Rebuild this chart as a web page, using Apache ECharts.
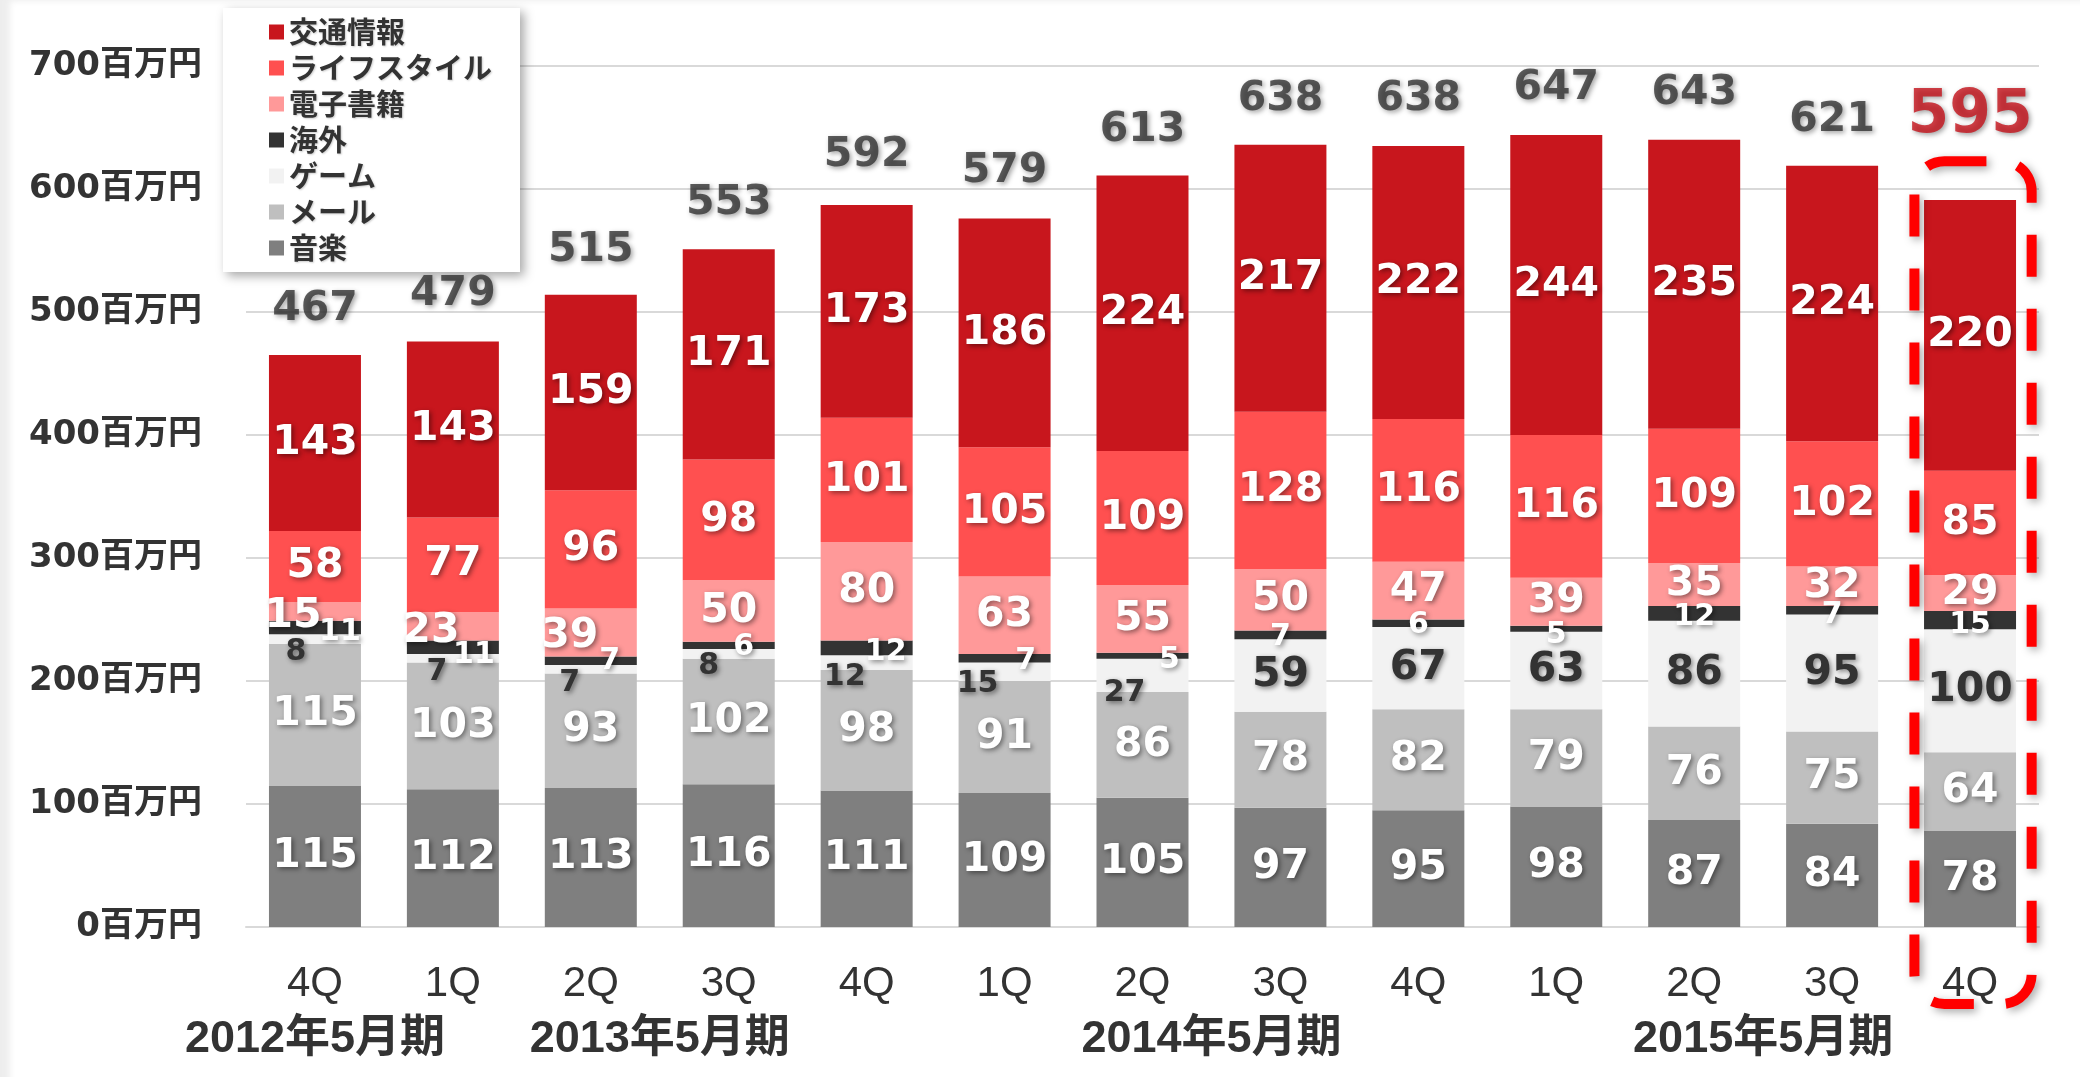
<!DOCTYPE html>
<html><head><meta charset="utf-8">
<script src="https://cdn.jsdelivr.net/npm/echarts@6/dist/echarts.min.js"></script>
<style>
html,body{margin:0;padding:0;background:#fff}
#wrap{position:relative;width:2080px;height:1077px}
#c{width:2080px;height:1077px}
#frame{position:absolute;left:0;top:0;width:2080px;height:1077px;pointer-events:none;
  box-shadow:inset 16px 7px 6px -6px rgba(0,0,0,0.07)}
</style>
</head><body><div id="wrap"><div id="c"></div><div id="frame"></div></div>
<script>
// ---- data ----
const quarters = ['4Q','1Q','2Q','3Q','4Q','1Q','2Q','3Q','4Q','1Q','2Q','3Q','4Q'];
const periodLabels = ['2012年5月期','2013年5月期','2014年5月期','2015年5月期'];
const periodCenters = [0, 2.5, 6.5, 10.5];
const yUnit = '百万円';
const seriesNames = ['音楽','メール','ゲーム','海外','電子書籍','ライフスタイル','交通情報'];
const music     = [115,112,113,116,111,109,105, 97, 95, 98, 87, 84, 78];
const mail      = [115,103, 93,102, 98, 91, 86, 78, 82, 79, 76, 75, 64];
const game      = [  8,  7,  7,  8, 12, 15, 27, 59, 67, 63, 86, 95,100];
const overseas  = [ 11, 11,  7,  6, 12,  7,  5,  7,  6,  5, 12,  7, 15];
const ebook     = [ 15, 23, 39, 50, 80, 63, 55, 50, 47, 39, 35, 32, 29];
const lifestyle = [ 58, 77, 96, 98,101,105,109,128,116,116,109,102, 85];
const traffic   = [143,143,159,171,173,186,224,217,222,244,235,224,220];
const totals    = [467,479,515,553,592,579,613,638,638,647,643,621,595];

// ---- styles ----
const colors = ['#7F7F7F','#BFBFBF','#F2F2F2','#333333','#FF9999','#FF5050','#C8161D'];
const labelColors = ['#fff','#fff','#333','#fff','#fff','#fff','#fff'];
const nudges = {
  'ゲーム': [[-19,13],[-16,14],[-21,14],[-20,12],[-22,15],[-27,12],[-18,18]],
  '海外': [[25,5],[21,8],[19,0],[15,2],[19,4],[21,3],[27,4],[0,2],[0,2],[0,6],[0,4],[0,5],[0,5]],
  '電子書籍': [[-22,5],[-22,5],[-21,4]]
};
const smallLabelSeries = {'ゲーム':30,'海外':30};
const FONT = '"DejaVu Sans","Noto Sans CJK JP",sans-serif';
const shadow = {textShadowColor:'rgba(0,0,0,0.45)',textShadowBlur:5,textShadowOffsetX:2,textShadowOffsetY:2};

const valuesList = [music, mail, game, overseas, ebook, lifestyle, traffic];
const chart = echarts.init(document.getElementById('c'));

const barSeries = seriesNames.map((name, si) => ({
  name, type:'bar', stack:'total', barWidth:'66.7%', xAxisIndex:0, yAxisIndex:0,
  itemStyle:{color:colors[si]},
  label:Object.assign({show:true, position:'inside', color:labelColors[si], fontSize:41,
    fontWeight:'bold', fontFamily:FONT}, shadow),
  data: valuesList[si].map((v,i) => {
    const lab = {};
    const n = nudges[name] && nudges[name][i];
    if (n) lab.offset = n;
    if (smallLabelSeries[name] && v < 30) lab.fontSize = smallLabelSeries[name];
    return Object.keys(lab).length ? {value:v, label:lab} : v;
  })
}));

const last = totals.length - 1;
const totalSeries = {
  name:'合計', type:'scatter', xAxisIndex:0, yAxisIndex:0, symbolSize:1,
  itemStyle:{color:'rgba(0,0,0,0)'}, z:5,
  label:Object.assign({show:true, position:'top', distance:22, color:'#333', fontSize:41,
    fontWeight:'bold', fontFamily:FONT, formatter:'{c}'}, shadow),
  data: totals.map((v,i) => i === last ?
    {value:v, label:{color:'#C4121A', fontSize:60, distance:48}} : v)
};

chart.setOption({
  animation:false,
  backgroundColor:'#fff',
  grid:{left:246, right:41, top:66, bottom:150, containLabel:false},
  legend:{
    data: seriesNames.slice().reverse(), orient:'vertical', left:223, top:8,
    backgroundColor:'#fff', shadowBlur:10, shadowColor:'rgba(0,0,0,0.35)', shadowOffsetX:4, shadowOffsetY:4,
    padding:[9,28,9,46], itemWidth:15, itemHeight:15, itemGap:6, icon:'rect',
    textStyle:{fontSize:29, fontWeight:'bold', color:'#333', lineHeight:30, fontFamily:'"Noto Sans CJK JP",sans-serif',
      textShadowColor:'rgba(0,0,0,0.2)', textShadowBlur:2, textShadowOffsetX:1, textShadowOffsetY:1}
  },
  xAxis:[{
    type:'category', data:quarters, position:'bottom',
    axisTick:{show:false}, axisLine:{lineStyle:{color:'#D9D9D9', width:2}},
    axisLabel:{fontSize:42, color:'#333', margin:36, fontFamily:'"Liberation Sans",Arial,sans-serif'}
  },{
    type:'value', min:-0.5, max:12.5, interval:0.5, position:'bottom',
    axisLine:{show:false}, axisTick:{show:false}, splitLine:{show:false},
    axisLabel:{margin:90, fontSize:45, fontWeight:'bold', color:'#333', showMinLabel:true, showMaxLabel:true,
      fontFamily:'"Liberation Sans","Noto Sans CJK JP",sans-serif',
      formatter: v => { const k = periodCenters.findIndex(c => Math.abs(c - v) < 1e-6); return k >= 0 ? periodLabels[k] : ''; }}
  }],
  yAxis:{
    type:'value', min:0, max:700, interval:100,
    axisLine:{show:false}, axisTick:{show:false},
    splitLine:{lineStyle:{color:'#D9D9D9', width:2}},
    axisLabel:{formatter: v => v + yUnit, fontSize:34, fontWeight:'bold', color:'#333', margin:44, fontFamily:FONT}
  },
  series: barSeries.concat([totalSeries])
});

// highlight box around the latest quarter, positioned from the axes
const P = (x,y) => chart.convertToPixel({xAxisIndex:0, yAxisIndex:0}, [x,y]);
const pTop = P(last, totals[last]);
const pZero = P(last, 0);
const band = pZero[0] - P(last-1, 0)[0];
const w = band * 0.85;
const x0 = pTop[0] + 3 - w/2;
const y0 = pTop[1] - 34;
const y1 = pZero[1] + 77;
chart.setOption({graphic:[{
  type:'rect', z:10,
  shape:{x:x0, y:y0, width:w, height:y1-y0, r:30},
  style:{fill:'none', stroke:'#FF0000', lineWidth:10, lineDash:[42,32],
    shadowBlur:8, shadowColor:'rgba(0,0,0,0.35)', shadowOffsetX:3, shadowOffsetY:3}
}]});
</script></body></html>
